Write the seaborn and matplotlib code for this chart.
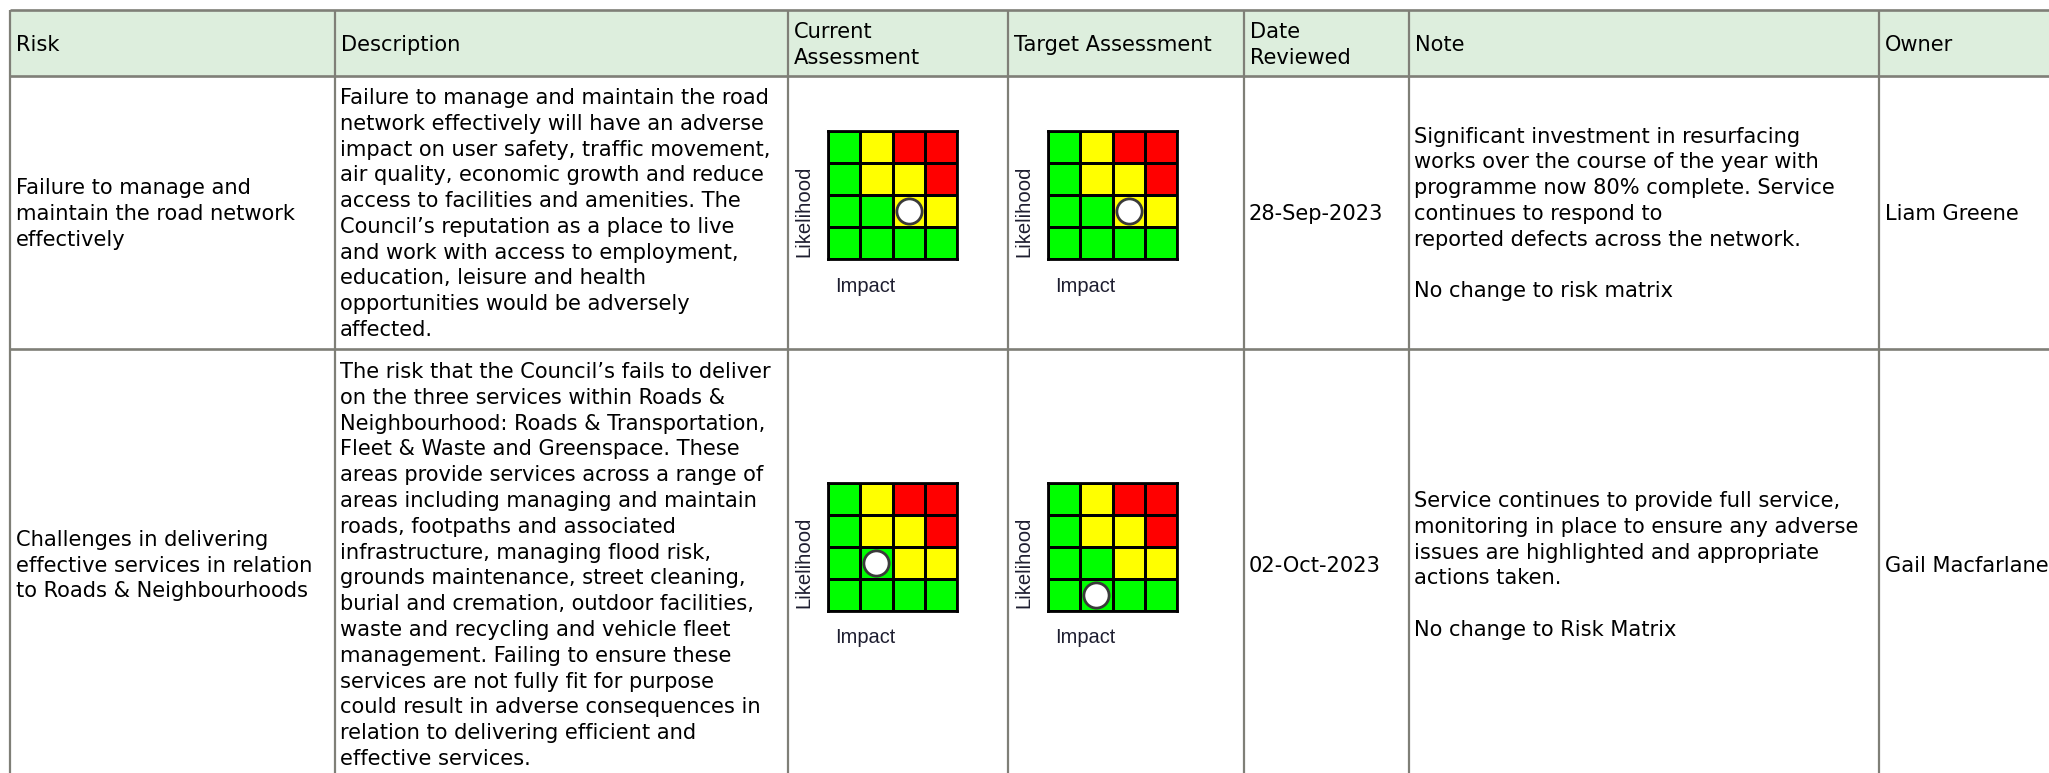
import numpy as np
import matplotlib
matplotlib.use("Agg")
import matplotlib.pyplot as plt
import seaborn as sns
from matplotlib.colors import ListedColormap
from matplotlib.patches import Rectangle

# ---------------- data ----------------
headers = ["Risk", "Description", "Current\nAssessment", "Target Assessment",
           "Date\nReviewed", "Note", "Owner"]

risks = [
    "Failure to manage and\nmaintain the road network\neffectively",
    "Challenges in delivering\neffective services in relation\nto Roads & Neighbourhoods",
]

descriptions = [
    "Failure to manage and maintain the road\n"
    "network effectively will have an adverse\n"
    "impact on user safety, traffic movement,\n"
    "air quality, economic growth and reduce\n"
    "access to facilities and amenities. The\n"
    "Council\u2019s reputation as a place to live\n"
    "and work with access to employment,\n"
    "education, leisure and health\n"
    "opportunities would be adversely\n"
    "affected.",
    "The risk that the Council\u2019s fails to deliver\n"
    "on the three services within Roads &\n"
    "Neighbourhood: Roads & Transportation,\n"
    "Fleet & Waste and Greenspace. These\n"
    "areas provide services across a range of\n"
    "areas including managing and maintain\n"
    "roads, footpaths and associated\n"
    "infrastructure, managing flood risk,\n"
    "grounds maintenance, street cleaning,\n"
    "burial and cremation, outdoor facilities,\n"
    "waste and recycling and vehicle fleet\n"
    "management. Failing to ensure these\n"
    "services are not fully fit for purpose\n"
    "could result in adverse consequences in\n"
    "relation to delivering efficient and\n"
    "effective services.",
]

dates = ["28-Sep-2023", "02-Oct-2023"]

notes = [
    "Significant investment in resurfacing\n"
    "works over the course of the year with\n"
    "programme now 80% complete. Service\n"
    "continues to respond to\n"
    "reported defects across the network.\n"
    "\n"
    "No change to risk matrix",
    "Service continues to provide full service,\n"
    "monitoring in place to ensure any adverse\n"
    "issues are highlighted and appropriate\n"
    "actions taken.\n"
    "\n"
    "No change to Risk Matrix",
]

owners = ["Liam Greene", "Gail Macfarlane"]

current_impact = [3, 2]
current_likelihood = [2, 2]
target_impact = [3, 2]
target_likelihood = [2, 1]

# risk levels: rows = likelihood 4..1 (top to bottom), cols = impact 1..4
matrix_levels = [
    [0, 1, 2, 2],
    [0, 1, 1, 2],
    [0, 0, 1, 1],
    [0, 0, 0, 0],
]
level_colors = ["#00FF00", "#FFFF00", "#FF0000"]

# ---------------- layout ----------------
W, H = 2049, 773
col_edges = [10, 335, 788, 1008, 1244, 1409, 1879, 2070]
row_edges = [10, 76, 349, 779]
row_centers = [(row_edges[i] + row_edges[i + 1]) / 2 for i in range(1, 3)]
header_center = (row_edges[0] + row_edges[1]) / 2 + 0.5
line_h = 25.8
pad = 6
border_color = "#7F7F77"
header_bg = "#DDEEDD"

sns.set_style("white")
plt.rcParams["font.family"] = ["DejaVu Sans"]
FS = 15.1

fig = plt.figure(figsize=(W / 100, H / 100), dpi=100)
fig.patch.set_facecolor("white")
ax = fig.add_axes([0, 0, 1, 1])
ax.set_xlim(0, W)
ax.set_ylim(H, 0)
ax.axis("off")

# header background
ax.add_patch(Rectangle((col_edges[0], row_edges[0]), col_edges[-1] - col_edges[0],
                       row_edges[1] - row_edges[0], facecolor=header_bg,
                       edgecolor="none", zorder=0))

# grid lines
for y in row_edges:
    ax.plot([col_edges[0], col_edges[-1]], [y, y], color=border_color, lw=1.9,
            solid_capstyle="butt", zorder=2)
for x in col_edges:
    ax.plot([x, x], [row_edges[0], row_edges[-1]], color=border_color, lw=1.6,
            solid_capstyle="butt", zorder=2)


def draw_lines(text, x, yc, lh=line_h, **kw):
    lines = text.split("\n")
    n = len(lines)
    for i, ln in enumerate(lines):
        y = yc + (i - (n - 1) / 2) * lh
        ax.text(x, y + 7.5, ln, ha="left", va="baseline", fontsize=FS,
                color="black", zorder=3, **kw)


# header texts
for j, h in enumerate(headers):
    draw_lines(h, col_edges[j] + pad, header_center, lh=25)

cmap = ListedColormap(level_colors)
mat = np.array(matrix_levels)


def draw_matrix(col_left, row_c, impact, likelihood):
    gx = col_left + 40
    gy = row_c - 81.5
    gw, gh = 129, 128
    hax = fig.add_axes([gx / W, 1 - (gy + gh) / H, gw / W, gh / H])
    sns.heatmap(mat, cmap=cmap, vmin=-0.5, vmax=2.5, cbar=False,
                linewidths=2, linecolor="black", ax=hax,
                xticklabels=False, yticklabels=False)
    for s in hax.spines.values():
        s.set_visible(True)
        s.set_color("black")
        s.set_linewidth(2)
    hax.scatter([impact - 0.5], [4 - likelihood + 0.5], s=330, c="white",
                edgecolors="#3a3a3a", linewidths=2.0, zorder=5, clip_on=False)
    ax.text(col_left + 16, gy + gh - 2, "Likelihood", rotation=90, ha="center",
            va="bottom", fontsize=14.6, family="Liberation Sans", color="#1e1e30")
    ax.text(gx + 7, gy + gh + 27, "Impact", ha="left", va="center",
            fontsize=14.4, family="Liberation Sans", color="#1e1e30")


for i in range(2):
    yc = row_centers[i]
    draw_lines(risks[i], col_edges[0] + pad, yc)
    draw_lines(descriptions[i], col_edges[1] + pad - 1, yc)
    draw_matrix(col_edges[2], yc, current_impact[i], current_likelihood[i])
    draw_matrix(col_edges[3], yc, target_impact[i], target_likelihood[i])
    draw_lines(dates[i], col_edges[4] + pad - 1, yc)
    draw_lines(notes[i], col_edges[5] + pad - 1, yc)
    draw_lines(owners[i], col_edges[6] + pad, yc)

fig.savefig("out.png", dpi=100, facecolor="white")
